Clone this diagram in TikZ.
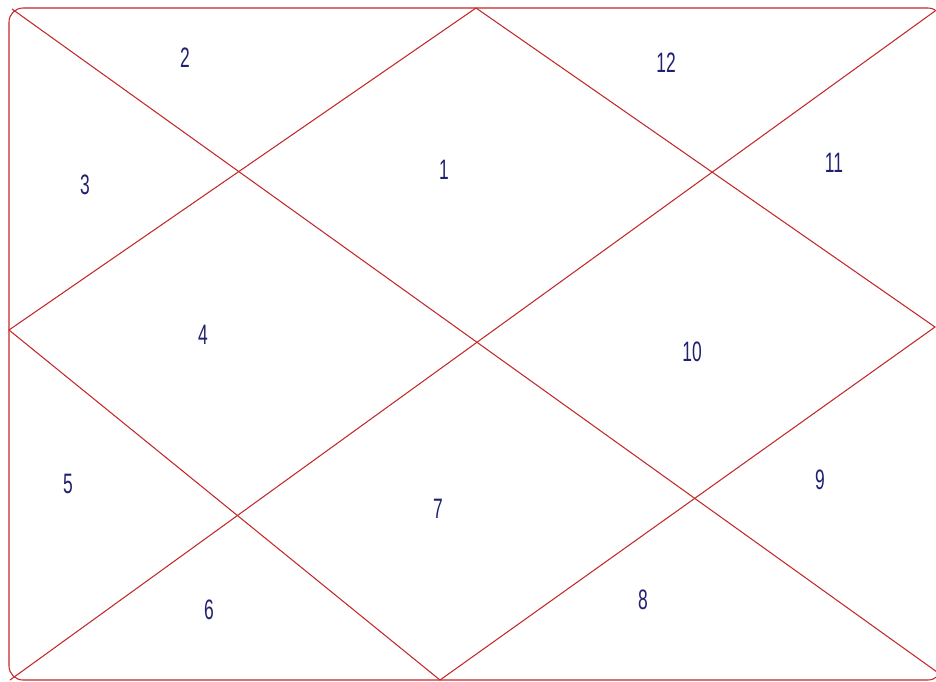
\documentclass[tikz,border=0pt]{standalone}
\usepackage{fontspec}
\newfontfamily\numfont[FakeStretch=0.62]{Liberation Sans}
\definecolor{chartred}{RGB}{196,40,40}
\definecolor{housenum}{RGB}{32,32,112}
\tikzset{
  chartline/.style={draw=chartred, line width=0.6pt},
  house/.style={text=housenum, font=\numfont\fontsize{16}{16}\selectfont, inner sep=0pt}
}
\begin{document}
\begin{tikzpicture}[x=0.02cm, y=-0.02cm]
		\useasboundingbox (0,0) rectangle (936,681);
		
		% Corners and midpoints of the chart
		\coordinate (tl) at (12,9);
		\coordinate (tr) at (935,11);
		\coordinate (bl) at (10,680);
		\coordinate (br) at (937,672);
		\coordinate (tm) at (476,8);
		\coordinate (lm) at (9,330);
		\coordinate (bm) at (440,680);
		\coordinate (rm) at (935,327);
		
		% Frame
		\draw[chartline, rounded corners=8] (9,8) rectangle (942,680);
		
		% Diagonals
		\draw[chartline] (tl) -- (br);
		\draw[chartline] (tr) -- (bl);
		
		% Inner diamond
		\draw[chartline] (tm) -- (lm) -- (bm) -- (rm) -- cycle;
		
		% House numbers
		\node[house] (h1) at (444,170) {1};
		\node[house] (h2) at (185,58) {2};
		\node[house] (h3) at (85,185) {3};
		\node[house] (h4) at (203,335) {4};
		\node[house] (h5) at (68,484) {5};
		\node[house] (h6) at (209,610) {6};
		\node[house] (h7) at (438,509) {7};
		\node[house] (h8) at (643,600) {8};
		\node[house] (h9) at (820,480) {9};
		\node[house] (h10) at (692,352) {10};
		\node[house] (h11) at (834,163) {11};
		\node[house] (h12) at (666,63) {12};
	\end{tikzpicture}
\end{document}
